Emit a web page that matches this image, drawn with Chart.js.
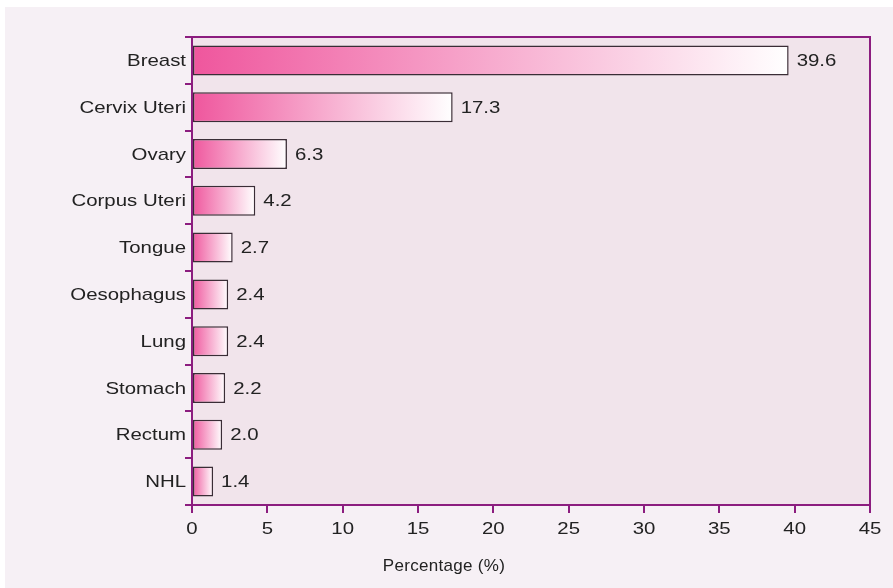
<!DOCTYPE html>
<html>
<head>
<meta charset="utf-8">
<script src="https://cdn.jsdelivr.net/npm/chart.js@4.4.1/dist/chart.umd.min.js"></script>
<style>
  html, body { margin: 0; padding: 0; background: #ffffff; }
  #wrap { width: 893px; height: 588px; }
</style>
</head>
<body>
<div id="wrap"><canvas id="myChart" width="893" height="588"></canvas></div>
<script>
const sites = ['Breast', 'Cervix Uteri', 'Ovary', 'Corpus Uteri', 'Tongue', 'Oesophagus', 'Lung', 'Stomach', 'Rectum', 'NHL'];
const percentages = [39.6, 17.3, 6.3, 4.2, 2.7, 2.4, 2.4, 2.2, 2.0, 1.4];
const xTicks = [0, 5, 10, 15, 20, 25, 30, 35, 40, 45];
const xTitle = 'Percentage (%)';

const axisColor = '#8c1d7f';
const textColor = '#222222';
const fontFamily = '"Liberation Sans", Arial, Helvetica, sans-serif';
const font = '17px ' + fontFamily;
const stretch = 1.2; // the original lettering is a wide Helvetica

function wideText(c, text, x, y, align) {
    c.save();
    c.translate(x, y);
    c.scale(stretch, 1);
    c.textAlign = align;
    c.fillText(text, 0, 0);
    c.restore();
}

// background panel, plot frame, tick labels, value labels, axis title
const decor = {
    id: 'decor',
    beforeDraw(chart) {
        const c = chart.ctx;
        const a = chart.chartArea;
        c.save();
        c.fillStyle = '#ffffff';
        c.fillRect(0, 0, chart.width, chart.height);
        c.fillStyle = '#f6f0f5';
        c.fillRect(5, 7, chart.width - 5, chart.height - 7);
        c.fillStyle = '#f1e4eb';
        c.fillRect(a.left, a.top, a.right - a.left, a.bottom - a.top);
        c.restore();
    },
    afterDraw(chart) {
        const c = chart.ctx;
        const a = chart.chartArea;
        const xs = chart.scales.x;
        const ys = chart.scales.y;
        c.save();
        c.strokeStyle = axisColor;
        c.lineWidth = 2;
        c.strokeRect(a.left, a.top, a.right - a.left, a.bottom - a.top);

        c.fillStyle = textColor;
        c.font = font;
        c.textBaseline = 'middle';

        sites.forEach((s, i) => {
            wideText(c, s, a.left - 6, ys.getPixelForValue(i) + 1, 'right');
        });
        xTicks.forEach(v => {
            wideText(c, String(v), xs.getPixelForValue(v), 529, 'center');
        });
        const meta = chart.getDatasetMeta(0);
        meta.data.forEach((bar, i) => {
            wideText(c, percentages[i].toFixed(1), bar.x + 8, bar.y + 1, 'left');
        });

        c.textAlign = 'center';
        c.letterSpacing = '0.3px';
        c.fillText(xTitle, 444, 566);
        c.restore();
    }
};

const ctx = document.getElementById('myChart').getContext('2d');

new Chart(ctx, {
    type: 'bar',
    data: {
        labels: sites,
        datasets: [{
            data: percentages,
            backgroundColor: function(context) {
                const chart = context.chart;
                const area = chart.chartArea;
                if (!area) return '#ef589e';
                const xs = chart.scales.x;
                const x0 = xs.getPixelForValue(0);
                const x1 = xs.getPixelForValue(percentages[context.dataIndex]);
                const g = chart.ctx.createLinearGradient(x0, 0, x1, 0);
                g.addColorStop(0, '#ef569d');
                g.addColorStop(1, '#ffffff');
                return g;
            },
            borderColor: '#3a2d36',
            borderWidth: 1.5,
            borderSkipped: false,
            barPercentage: 0.64,
            categoryPercentage: 1.0
        }]
    },
    options: {
        indexAxis: 'y',
        responsive: false,
        animation: false,
        layout: { padding: { top: 37, right: 23, left: 0, bottom: 0 } },
        plugins: {
            legend: { display: false },
            tooltip: { enabled: false }
        },
        scales: {
            x: {
                min: 0,
                max: 45,
                afterBuildTicks: function(scale) {
                    scale.ticks = xTicks.map(v => ({ value: v }));
                },
                afterFit: function(scale) { scale.height = 83; },
                border: { display: true, color: axisColor, width: 2 },
                grid: {
                    drawOnChartArea: false,
                    drawTicks: true,
                    tickLength: 8,
                    color: axisColor,
                    lineWidth: 2
                },
                ticks: { display: false }
            },
            y: {
                afterFit: function(scale) { scale.width = 192; },
                border: { display: true, color: axisColor, width: 2 },
                grid: {
                    offset: true,
                    drawOnChartArea: false,
                    drawTicks: true,
                    tickLength: 7,
                    color: axisColor,
                    lineWidth: 2
                },
                ticks: { display: false }
            }
        }
    },
    plugins: [decor]
});
</script>
</body>
</html>
